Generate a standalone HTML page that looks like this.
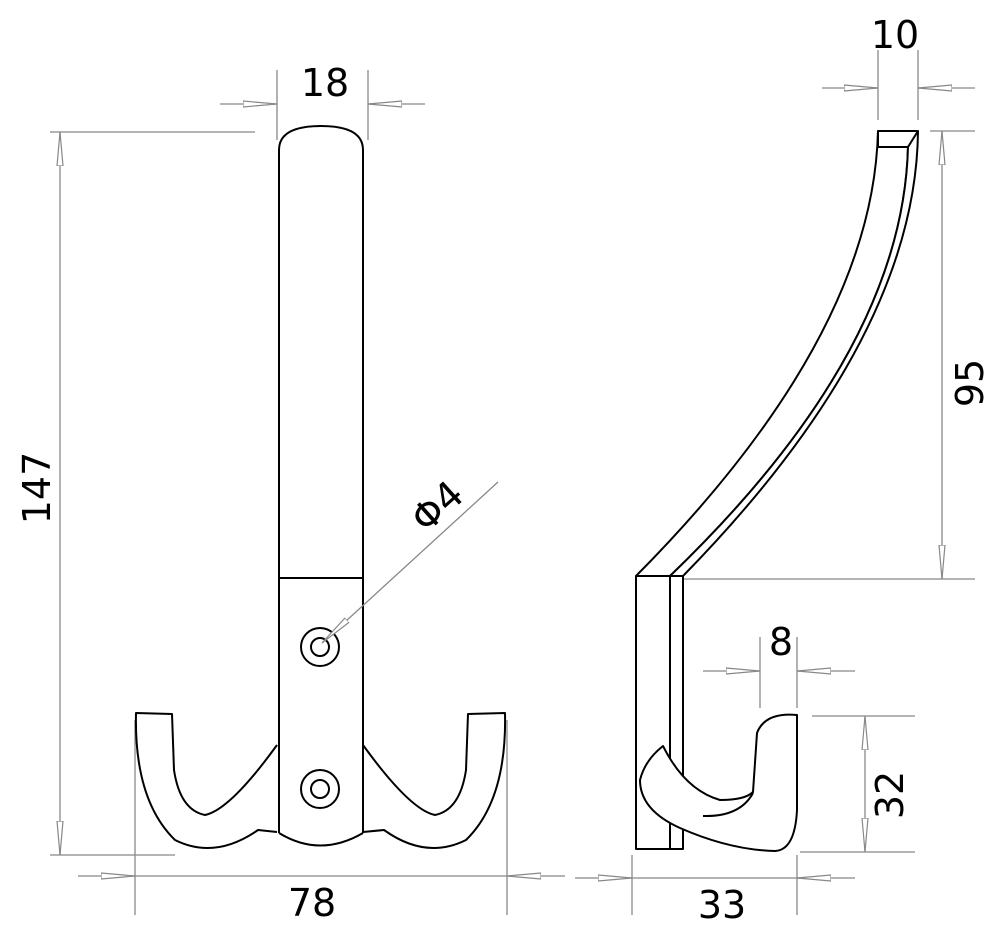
<!DOCTYPE html>
<html><head><style>html,body{margin:0;padding:0;background:#fff}svg{display:block}</style></head>
<body>
<svg width="1000" height="935" viewBox="0 0 1000 935" xmlns="http://www.w3.org/2000/svg">
<defs>
<marker id="a" viewBox="0 0 34 10" refX="34" refY="5" markerWidth="34" markerHeight="10" markerUnits="userSpaceOnUse" orient="auto">
<path d="M0,2 L34,5 L0,8 Z" fill="#fff" stroke="#888" stroke-width="1.2"/>
</marker>
</defs>
<g stroke="#888" stroke-width="1.3" fill="none">
<line x1="50" y1="132" x2="255" y2="132"/>
<line x1="50" y1="855" x2="175" y2="855"/>
<line x1="60" y1="170" x2="60" y2="132" marker-end="url(#a)"/>
<line x1="60" y1="820" x2="60" y2="855" marker-end="url(#a)"/>
<line x1="60" y1="170" x2="60" y2="820"/>
<line x1="277" y1="70" x2="277" y2="140"/>
<line x1="368" y1="70" x2="368" y2="140"/>
<line x1="220" y1="104" x2="277" y2="104" marker-end="url(#a)"/>
<line x1="425" y1="104" x2="368" y2="104" marker-end="url(#a)"/>
<line x1="135" y1="720" x2="135" y2="915"/>
<line x1="507" y1="720" x2="507" y2="915"/>
<line x1="78" y1="876" x2="135" y2="876" marker-end="url(#a)"/>
<line x1="565" y1="876" x2="507" y2="876" marker-end="url(#a)"/>
<line x1="135" y1="876" x2="507" y2="876"/>
<line x1="878" y1="50" x2="878" y2="120"/>
<line x1="918" y1="50" x2="918" y2="120"/>
<line x1="822" y1="88" x2="878" y2="88" marker-end="url(#a)"/>
<line x1="975" y1="88" x2="918" y2="88" marker-end="url(#a)"/>
<line x1="930" y1="131" x2="975" y2="131"/>
<line x1="683" y1="579" x2="975" y2="579"/>
<line x1="942" y1="170" x2="942" y2="131" marker-end="url(#a)"/>
<line x1="942" y1="540" x2="942" y2="579" marker-end="url(#a)"/>
<line x1="942" y1="170" x2="942" y2="540"/>
<line x1="760" y1="637" x2="760" y2="708"/>
<line x1="797" y1="637" x2="797" y2="708"/>
<line x1="703" y1="671" x2="760" y2="671" marker-end="url(#a)"/>
<line x1="855" y1="671" x2="797" y2="671" marker-end="url(#a)"/>
<line x1="812" y1="716" x2="915" y2="716"/>
<line x1="800" y1="852" x2="915" y2="852"/>
<line x1="865" y1="755" x2="865" y2="716" marker-end="url(#a)"/>
<line x1="865" y1="815" x2="865" y2="852" marker-end="url(#a)"/>
<line x1="865" y1="755" x2="865" y2="815"/>
<line x1="632" y1="855" x2="632" y2="915"/>
<line x1="797" y1="855" x2="797" y2="915"/>
<line x1="575" y1="878" x2="632" y2="878" marker-end="url(#a)"/>
<line x1="855" y1="878" x2="797" y2="878" marker-end="url(#a)"/>
<line x1="632" y1="878" x2="797" y2="878"/>
</g>

<g stroke="#000" stroke-width="2" fill="#fff" stroke-linejoin="round">
<path d="M279,833 L279,150 Q279,126 321,126 Q363,126 363,150 L363,833"/>
<line x1="279" y1="578" x2="363" y2="578"/>
<path d="M279,833 Q320,858 363,833" fill="none"/>
<path d="M277,745 Q230,810 205,815 Q180,810 174,770 L172,714 L136,713 Q134,800 175,840 Q215,860 258,830 L277,832" fill="none"/>
<path d="M363,745 Q410,810 435,815 Q460,810 466,770 L468,714 L505,713 Q507,800 466,840 Q426,860 384,830 L363,832" fill="none"/>
<circle cx="320" cy="647" r="19"/><circle cx="320" cy="647" r="9"/>
<circle cx="320" cy="789" r="19"/><circle cx="320" cy="789" r="9"/>

<rect x="636" y="576" width="34" height="273"/>
<rect x="670" y="576" width="13" height="273"/>
<path d="M878,131 Q873,337 636,576 L670,576 Q903,352 908,147 L878,147 Z"/>
<path d="M908,147 L918,131 Q916,338 683,576 L670,576 Q903,352 908,147 Z"/>
<line x1="878" y1="131" x2="918" y2="131"/>
<path d="M757,733 Q765,712 797,715 L797,810 Q795,850 775,851 Q730,850 680,828 Q640,810 640,780 Q645,760 663,746 Q685,790 720,800 Q745,800 753,792 Z"/>
<path d="M703,816 Q740,817 753,793" fill="none"/>
</g>
<line x1="498" y1="482" x2="322" y2="643" stroke="#888" stroke-width="1.3" marker-end="url(#a)"/>

<g font-family="'DejaVu Sans','Liberation Sans',sans-serif" font-size="38" fill="#000" text-anchor="middle">
<text x="325" y="96">18</text>
<text x="895" y="48">10</text>
<text x="781" y="655">8</text>
<text x="312" y="916">78</text>
<text x="722" y="918">33</text>
<text transform="translate(50,488) rotate(-90)">147</text>
<text transform="translate(983,383) rotate(-90)">95</text>
<text transform="translate(903,795) rotate(-90)">32</text>
<text transform="translate(446,516) rotate(-42)">Φ4</text>
</g>
</svg>
</body></html>
